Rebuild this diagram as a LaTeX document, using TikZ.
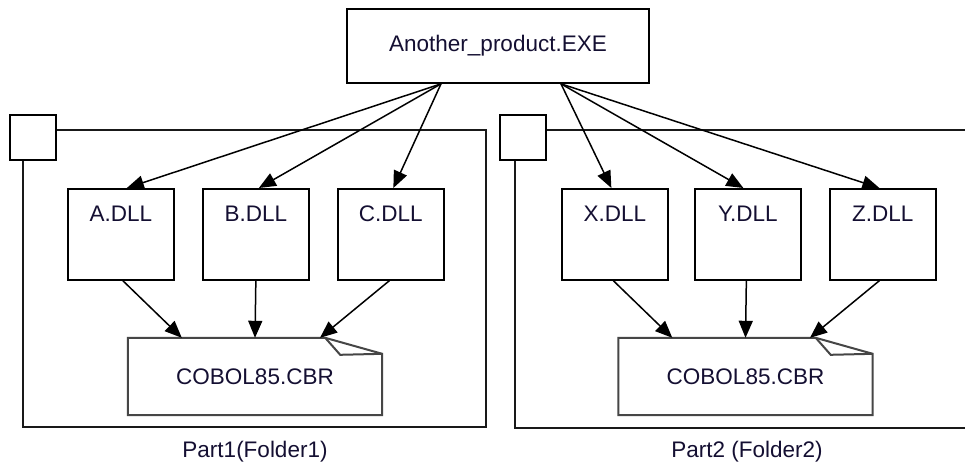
\documentclass[tikz,border=0pt]{standalone}
\usepackage{fontspec}
\setmainfont{Liberation Sans}
\usetikzlibrary{arrows.meta}
\definecolor{txt}{RGB}{20,15,50}
\definecolor{notegray}{RGB}{70,70,70}
\begin{document}
\begin{tikzpicture}[x=1pt,y=-1pt,
  every node/.style={font=\fontsize{22.5}{27}\selectfont, text=txt},
  box/.style={draw=black, line width=1.7pt, rectangle, inner sep=0pt},
  dll/.style={box, minimum width=106pt, minimum height=91pt, text height=33pt, text depth=58pt, anchor=north west},
  notebox/.style={rectangle, draw=none, inner sep=0pt, minimum width=254pt, minimum height=77pt},
  noteline/.style={draw=notegray, line width=2pt, line join=miter},
  frame/.style={draw=black!90, line width=1.7pt},
  fbox/.style={box, minimum width=46pt, minimum height=45pt, anchor=north west},
  arr/.style={draw=black, line width=1.5pt, -{Triangle[length=17pt,width=14pt]}}
]
\useasboundingbox (0,0) rectangle (965,466);
\fill[white] (0,0) rectangle (965,466);

% top node
\node[box, minimum width=302pt, minimum height=74pt] (top) at (498,46) {Another\_product.EXE};

% folders
\node[fbox] (f1) at (9,114) {};
\draw[frame] (f1.east |- 0,130) -- (486,130) -- (486,427) -- (23,427) -- (23,0 |- f1.south);
\node[fbox] (f2) at (499,114) {};
\draw[frame] (f2.east |- 0,130) -- (975,130);
\draw[frame] (515,0 |- f2.south) -- (515,428) -- (975,428);

% DLLs
\node[dll] (A) at (67,188) {A.DLL};
\node[dll] (B) at (202,188) {B.DLL};
\node[dll] (C) at (337,188) {C.DLL};
\node[dll] (X) at (561,188) {X.DLL};
\node[dll] (Y) at (694,188) {Y.DLL};
\node[dll] (Z) at (829,188) {Z.DLL};

% notes
\node[notebox] (n1) at (255,376.5) {COBOL85.CBR\hspace{16pt}};
\node[notebox] (n2) at (745.5,376.5) {COBOL85.CBR\hspace{16pt}};
\foreach \n in {n1,n2}{
  \draw[noteline] (\n.north west) -- ([xshift=-57pt]\n.north east) -- ([yshift=-16pt]\n.north east) -- (\n.south east) -- (\n.south west) -- cycle;
  \draw[noteline] ([xshift=-57pt]\n.north east) -- ([xshift=-42pt,yshift=-17pt]\n.north east) -- ([yshift=-16pt]\n.north east);
}

% arrows from top
\draw[arr] ([xshift=-57pt]top.south) -- ([xshift=6pt]A.north);
\draw[arr] ([xshift=-57pt]top.south) -- ([xshift=3pt]B.north);
\draw[arr] ([xshift=-57pt]top.south) -- ([xshift=2.5pt]C.north);
\draw[arr] ([xshift=63pt]top.south) -- ([xshift=-3.5pt]X.north);
\draw[arr] ([xshift=63pt]top.south) -- ([xshift=-4.5pt]Y.north);
\draw[arr] ([xshift=63pt]top.south) -- ([xshift=-3.5pt]Z.north);

% arrows to notes
\draw[arr] ([xshift=2pt]A.south) -- ([xshift=54pt]n1.north west);
\draw[arr] (B.south) -- (n1.north);
\draw[arr] ([xshift=-1.5pt]C.south) -- ([xshift=65pt]n1.north);
\draw[arr] ([xshift=-1.5pt]X.south) -- ([xshift=54pt]n2.north west);
\draw[arr] ([xshift=-1.5pt]Y.south) -- (n2.north);
\draw[arr] ([xshift=-3.5pt]Z.south) -- ([xshift=64.5pt]n2.north);

% labels
\node (l1) at (255,452) {Part1(Folder1)};
\node (l2) at (747,452) {Part2 (Folder2)};
\end{tikzpicture}
\end{document}
